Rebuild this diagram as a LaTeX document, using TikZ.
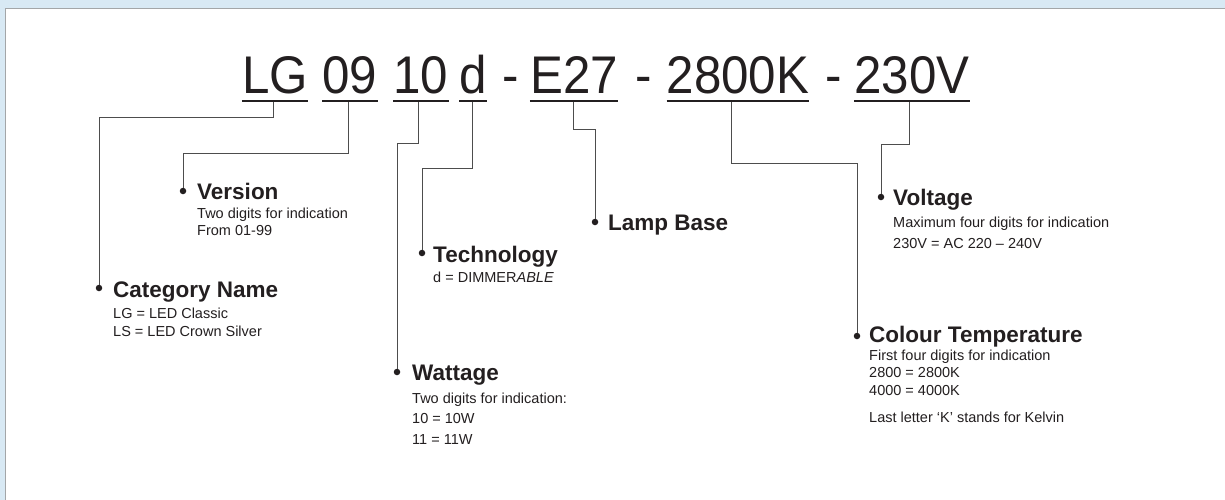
\documentclass[tikz,border=0pt]{standalone}
\usepackage{fontspec}
\setmainfont{Liberation Sans}
\newfontfamily\codefont[FakeStretch=0.93]{Liberation Sans}
\usetikzlibrary{positioning}

\definecolor{skyback}{HTML}{D8E9F4}
\definecolor{frameline}{HTML}{A3A6A8}
\definecolor{inkdark}{HTML}{231F20}
\definecolor{wiregray}{HTML}{4D4D4D}

\tikzset{
  code/.style={font=\codefont\fontsize{53}{60}\selectfont, text=inkdark, inner sep=0, anchor=base},
  uline/.style={draw=inkdark, line width=2pt},
  wire/.style={draw=wiregray, line width=1pt},
  dot/.style={circle, fill=inkdark, inner sep=0, minimum size=6.5pt},
  ttl/.style={font=\fontsize{22.5}{26}\selectfont\bfseries, text=inkdark, inner sep=0, anchor=base west},
  txt/.style={font=\fontsize{14.5}{18}\selectfont, text=inkdark, inner sep=0, anchor=north west, align=left},
}

\begin{document}
\begin{tikzpicture}[x=1pt, y=-1pt]
\useasboundingbox (0,0) rectangle (1225,499);
% backdrop and panel
\fill[skyback] (-5,-5) rectangle (1230,505);
\fill[white] (5,8) rectangle (1230,505);
\draw[frameline, line width=1.5pt] (5.5,505) -- (5.5,8.5) -- (1230,8.5);

% product code
\node[code] (lg) at (275,93) {LG};
\node[code] (ver) at (350,93) {09};
\node[code] (watt) at (421,93) {10};
\node[code] (tech) at (473,93) {d};
\node[code] (da) at (511,93) {-};
\node[code] (base) at (574,93) {E27};
\node[code] (db) at (644,93) {-};
\node[code] (cct) at (738,93) {2800K};
\node[code] (dc) at (834,93) {-};
\node[code] (volt) at (912,93) {230V};
\foreach \t in {lg,ver,watt,tech,base,cct,volt}
  \draw[uline] ([yshift=-8pt]\t.base west) -- ([yshift=-8pt]\t.base east);

% bullets
\node[dot] (catdot) at (99,288) {};
\node[dot] (verdot) at (183,191) {};
\node[dot] (techdot) at (422,253) {};
\node[dot] (basedot) at (595,222) {};
\node[dot] (wattdot) at (397,372) {};
\node[dot] (cctdot) at (857,336) {};
\node[dot] (voltdot) at (881,197) {};

% leaders
\foreach \t/\d/\dx/\h in {lg/catdot/-2/117, ver/verdot/-2/153, watt/wattdot/-3/143,
    tech/techdot/-1/168, base/basedot/-1/129, cct/cctdot/-7/163, volt/voltdot/-3/144}
  \draw[wire] ([xshift=\dx pt, yshift=-9pt]\t.base) -- ++(0,\h-102) -| (\d);

% labels
\node[ttl] (catT) at (113,297) {Category Name};
\node[txt] (catX) at (113,307.5) {LG = LED Classic\\LS = LED Crown Silver};
\node[ttl] (verT) at (197,199) {Version};
\node[txt, font=\fontsize{14.5}{17}\selectfont] (verX) at (197,207.5) {Two digits for indication\\From 01-99};
\node[ttl] (techT) at (433,262) {Technology};
\node[txt] (techX) at (433,271.5) {d = DIMMER\textit{ABLE}};
\node[ttl] (baseT) at (608,230) {Lamp Base};
\node[ttl] (wattT) at (412,380) {Wattage};
\node[txt, font=\fontsize{14.5}{20.5}\selectfont] (wattX) at (412,392.5) {Two digits for indication:\\10 = 10W\\11 = 11W};
\node[ttl] (cctT) at (869,342) {Colour Temperature};
\node[txt, font=\fontsize{14.5}{17.5}\selectfont] (cctX) at (869,349.5) {First four digits for indication\\2800 = 2800K\\4000 = 4000K\\[9.5pt]Last letter ‘K’ stands for Kelvin};
\node[ttl] (voltT) at (893,205) {Voltage};
\node[txt, font=\fontsize{14.5}{21}\selectfont] (voltX) at (893,216.5) {Maximum four digits for indication\\230V = AC 220 – 240V};
\end{tikzpicture}
\end{document}
